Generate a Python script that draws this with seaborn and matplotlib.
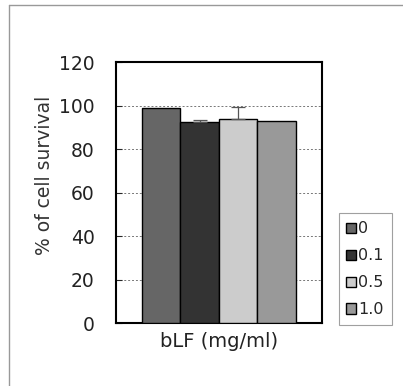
import matplotlib
matplotlib.use("Agg")
import matplotlib.pyplot as plt
import matplotlib.lines as mlines
import seaborn as sns
import pandas as pd

doses = ["0", "0.1", "0.5", "1.0"]
survival = [98.9, 92.6, 93.8, 93.0]
errors = [0.0, 0.8, 5.7, 0.0]
colors = ["#666666", "#333333", "#cccccc", "#999999"]
yticks = [0, 20, 40, 60, 80, 100, 120]

sns.set_style("white")
plt.rcParams["font.family"] = ["DejaVu Sans"]

df = pd.DataFrame({"group": [""] * 4, "dose": doses, "survival": survival})

fig = plt.figure(figsize=(4.03, 3.86), dpi=100)
ax = fig.add_axes([0.287, 0.163, 0.512, 0.676])

sns.barplot(data=df, x="group", y="survival", hue="dose", hue_order=doses,
            palette=colors, width=0.744, edgecolor="black", linewidth=1.0,
            errorbar=None, ax=ax, zorder=3, saturation=1)

for patch, v, e in zip(ax.patches, survival, errors):
    if e > 0:
        cx = patch.get_x() + patch.get_width() / 2
        ax.errorbar([cx], [v], yerr=[[0], [e]], fmt="none", ecolor="#555555",
                    elinewidth=0.9, capsize=5, capthick=0.9, zorder=4)

ax.set_ylim(0, 120)
ax.set_xlim(-0.5, 0.5)
ax.set_yticks(yticks)
ax.set_yticklabels([str(t) for t in yticks], fontsize=13.5, color="#222222")
ax.set_xticks([])
ax.yaxis.grid(True, linestyle=(0, (2, 2)), color="#777777", linewidth=0.7, zorder=0)
ax.set_axisbelow(True)
ax.tick_params(axis="y", direction="in", length=4, width=0.8, pad=15, left=True)
for s in ax.spines.values():
    s.set_color("black")
    s.set_linewidth(1.5)

ax.set_xlabel("bLF (mg/ml)", fontsize=14, color="#222222")
ax.xaxis.set_label_coords(0.5, -0.035)
ax.set_ylabel("% of cell survival", fontsize=13.5, color="#333333")
ax.yaxis.set_label_coords(-0.30, 0.567)

handles, labels = ax.get_legend_handles_labels()
leg = ax.legend(handles, labels, loc="lower left", bbox_to_anchor=(1.08, -0.008),
                frameon=True, fancybox=False, fontsize=11.5, handlelength=0.6,
                handleheight=0.6, handletextpad=0.15, labelspacing=0.75,
                borderpad=0.5, borderaxespad=0)
leg.get_frame().set_edgecolor("#888888")
leg.get_frame().set_linewidth(0.8)

fig.add_artist(mlines.Line2D([0.022, 0.022], [0.0, 0.987], color="#999999", lw=1.0))
fig.add_artist(mlines.Line2D([0.022, 1.0], [0.987, 0.987], color="#999999", lw=1.0))

fig.savefig("out.png", dpi=100)
